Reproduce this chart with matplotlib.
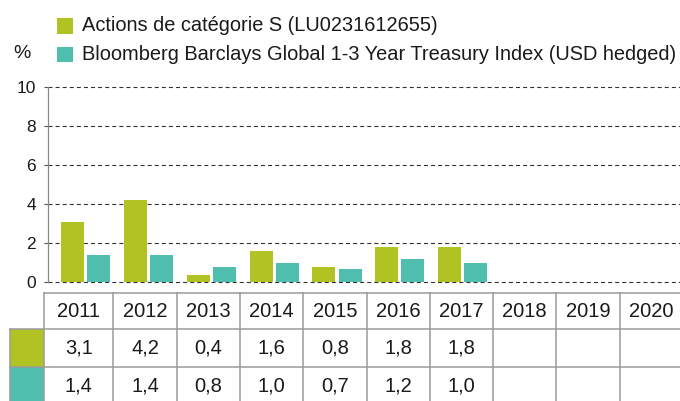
import matplotlib
matplotlib.use("Agg")
import matplotlib.pyplot as plt
from matplotlib.patches import Rectangle
import numpy as np

plt.rcParams['font.family'] = ['Liberation Sans', 'DejaVu Sans']
plt.rcParams['lines.scale_dashes'] = False

years = ["2011", "2012", "2013", "2014", "2015", "2016", "2017", "2018", "2019", "2020"]
fund = [3.1, 4.2, 0.4, 1.6, 0.8, 1.8, 1.8]
index = [1.4, 1.4, 0.8, 1.0, 0.7, 1.2, 1.0]
labels = ["Actions de catégorie S (LU0231612655)",
          "Bloomberg Barclays Global 1-3 Year Treasury Index (USD hedged)"]
colors = ["#b0c323", "#50beaf"]
yticks = [0, 2, 4, 6, 8, 10]

W, H = 680, 401
fig = plt.figure(figsize=(W / 100, H / 100), dpi=100)

# bar chart area (pixel geometry of the reference)
x0, x1, ytop, ybot = 48, 680, 87.3, 282.3
ax = fig.add_axes([x0 / W, (H - ybot) / H, (x1 - x0) / W, (ybot - ytop) / H])
step = 62.87
c0 = 85.5
ax.set_xlim((x0 - c0) / step, (x1 - c0) / step)
ax.set_ylim(0, 10)

xs = np.arange(len(fund))
bw = 0.366
ax.bar(xs - 0.208, fund, width=bw, color=colors[0], zorder=3)
ax.bar(xs + 0.208, index, width=bw, color=colors[1], zorder=3)

ax.set_yticks(yticks)
ax.set_yticklabels([str(t) for t in yticks], fontsize=12.5, color="#1a1a1a")
ax.set_xticks([])
ax.tick_params(axis="y", length=3, width=0.8, color="#555", pad=5.5)
for t in yticks:
    ax.axhline(t, color="#333", lw=0.8, ls=(0, (2.9, 2.2)), zorder=1, clip_on=False)
for s in ["top", "right", "bottom"]:
    ax.spines[s].set_visible(False)
ax.spines["left"].set_color("#888")
ax.spines["left"].set_linewidth(0.9)

# overlay in pixel coordinates for legend and table
ov = fig.add_axes([0, 0, 1, 1])
ov.set_xlim(0, W)
ov.set_ylim(H, 0)
ov.axis("off")
ov.patch.set_alpha(0)

# legend
for i, (lab, col) in enumerate(zip(labels, colors)):
    yc = 25.5 + 28.5 * i
    ov.add_patch(Rectangle((57, yc - 7.5), 15.5, 15.5, color=col, lw=0))
    ov.text(82, yc, lab, fontsize=14.4, va="center", ha="left", color="#1a1a1a")
ov.text(13, 54, "%", fontsize=14, va="center", ha="left", color="#1a1a1a")

# table
lc = "#9a9a9a"
lw = 1.1
rows = [293, 329.3, 367.3, 405]
vlines = [44] + [113.3 + 63.3 * k for k in range(10)]
ov.add_patch(Rectangle((10, rows[1]), vlines[0] - 10, rows[2] - rows[1], color=colors[0], lw=0))
ov.add_patch(Rectangle((10, rows[2]), vlines[0] - 10, rows[3] - rows[2], color=colors[1], lw=0))
ov.plot([vlines[0], vlines[-1]], [rows[0], rows[0]], color=lc, lw=lw)
for r in rows[1:3]:
    ov.plot([10, vlines[-1]], [r, r], color=lc, lw=lw)
ov.plot([10, 10], [rows[1], rows[3]], color=lc, lw=lw)
for v in vlines:
    ov.plot([v, v], [rows[0], rows[3]], color=lc, lw=lw)

for i, yr in enumerate(years):
    xc = (vlines[i] + vlines[i + 1]) / 2
    ov.text(xc, 311.5, yr, fontsize=14.5, ha="center", va="center", color="#1a1a1a")
    for r, series in enumerate([fund, index]):
        if i < len(series):
            yc = (rows[r + 1] + rows[r + 2]) / 2
            ov.text(xc, yc, f"{series[i]:.1f}".replace(".", ","), fontsize=14.5,
                    ha="center", va="center", color="#1a1a1a")

fig.savefig("out.png", dpi=100)
